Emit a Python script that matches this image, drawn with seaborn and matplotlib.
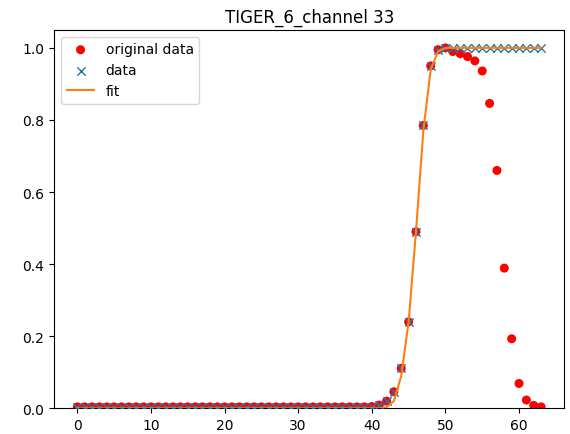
import numpy as np
import pandas as pd
import matplotlib
matplotlib.use("Agg")
import matplotlib.pyplot as plt
import seaborn as sns

channels = list(range(64))
# original data
original = [0.004] * 40 + [0.005, 0.009, 0.02, 0.046, 0.111, 0.24, 0.49, 0.785,
                           0.95, 0.995, 1.0, 0.99, 0.984, 0.976, 0.964, 0.936,
                           0.846, 0.66, 0.389, 0.193, 0.069, 0.023, 0.008, 0.004]
# data used for the fit (saturated after the peak)
data = original[:51] + [1.0] * 13
fit = [0.0] * 42 + [0.003, 0.02, 0.09, 0.24, 0.49, 0.77, 0.94, 0.99] + [1.0] * 14

title = "TIGER_6_channel 33"

fig = plt.figure(figsize=(5.7, 4.35), dpi=100)
ax = fig.add_axes([0.095, 0.059, 0.895, 0.87])

sns.scatterplot(x=channels, y=original, ax=ax, color="red", marker="o", s=42,
                edgecolor="none", label="original data", zorder=2)
sns.scatterplot(x=channels, y=data, ax=ax, color="C0", marker="x", s=36,
                linewidth=1.0, label="data", zorder=3)
sns.lineplot(x=channels, y=fit, ax=ax, color="C1", linewidth=1.5, label="fit", zorder=4)

ax.set_xlim(-3.15, 66.15)
ax.set_ylim(0, 1.05)
ax.set_xticks([0, 10, 20, 30, 40, 50, 60])
ax.set_yticks([0.0, 0.2, 0.4, 0.6, 0.8, 1.0])
ax.set_title(title, fontsize=12)
ax.legend(loc="upper left")

fig.savefig("out.png", dpi=100)
